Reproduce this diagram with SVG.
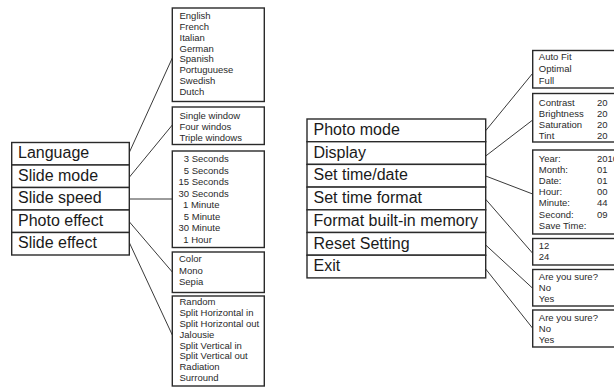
<svg xmlns="http://www.w3.org/2000/svg" width="614" height="389" viewBox="0 0 614 389">
<style>
.box{fill:#fff;stroke:#2a2a2a;stroke-width:1.4}
.m{font-family:"Liberation Sans",Arial,sans-serif;font-size:16px;fill:#1a1a1a}
.o{font-family:"Liberation Sans",Arial,sans-serif;font-size:9.5px;fill:#2a2a2a}
.c{fill:none;stroke:#222;stroke-width:0.9}
</style>
<rect width="614" height="389" fill="#fff"/>
<g id="connectors">
<line class="c" x1="129.5" y1="152" x2="172.3" y2="58"/>
<line class="c" x1="129.5" y1="177" x2="172.3" y2="125"/>
<line class="c" x1="129.5" y1="199" x2="172.3" y2="199"/>
<line class="c" x1="129.5" y1="222" x2="172.3" y2="272"/>
<line class="c" x1="129.5" y1="243" x2="172.3" y2="335"/>
<line class="c" x1="485.7" y1="130.7" x2="532.7" y2="73.3"/>
<line class="c" x1="485.7" y1="156" x2="532.7" y2="120"/>
<line class="c" x1="485.7" y1="176" x2="532.7" y2="194"/>
<line class="c" x1="485.7" y1="199.3" x2="532.7" y2="253.3"/>
<line class="c" x1="485.7" y1="245" x2="532.7" y2="288.3"/>
<line class="c" x1="485.7" y1="269" x2="532.7" y2="328.3"/>
</g>
<g id="left-menu">
<g id="language"><rect class="box" x="11.7" y="142.5" width="117.6" height="22.5"/><text class="m" x="18" y="158.1">Language</text></g>
<g id="slide-mode"><rect class="box" x="11.7" y="165" width="117.6" height="22.5"/><text class="m" x="18" y="180.6">Slide mode</text></g>
<g id="slide-speed"><rect class="box" x="11.7" y="187.5" width="117.6" height="22.5"/><text class="m" x="18" y="203.1">Slide speed</text></g>
<g id="photo-effect"><rect class="box" x="11.7" y="210" width="117.6" height="22.5"/><text class="m" x="18" y="225.6">Photo effect</text></g>
<g id="slide-effect"><rect class="box" x="11.7" y="232.5" width="117.6" height="22.5"/><text class="m" x="18" y="248.1">Slide effect</text></g>
</g>
<g id="language-options"><rect class="box" x="172.3" y="8" width="92" height="93.5"/>
<text class="o" x="179.5"><tspan x="179.5" y="18.8">English</tspan><tspan x="179.5" y="29.7">French</tspan><tspan x="179.5" y="40.6">Italian</tspan><tspan x="179.5" y="51.5">German</tspan><tspan x="179.5" y="62.4">Spanish</tspan><tspan x="179.5" y="73.3">Portuguuese</tspan><tspan x="179.5" y="84.2">Swedish</tspan><tspan x="179.5" y="95.1">Dutch</tspan></text></g>
<g id="slide-mode-options"><rect class="box" x="172.3" y="107" width="92" height="37.5"/>
<text class="o"><tspan x="179.5" y="118.5">Single window</tspan><tspan x="179.5" y="129.5">Four windos</tspan><tspan x="179.5" y="140.5">Triple windows</tspan></text></g>
<g id="slide-speed-options"><rect class="box" x="172.3" y="151" width="92" height="96.5"/>
<text class="o"><tspan x="183.8" y="162.4">3 Seconds</tspan><tspan x="183.8" y="173.9">5 Seconds</tspan><tspan x="178.5" y="185.4">15 Seconds</tspan><tspan x="178.5" y="196.9">30 Seconds</tspan><tspan x="183" y="208.4">1 Minute</tspan><tspan x="183.8" y="219.9">5 Minute</tspan><tspan x="178.5" y="231.4">30 Minute</tspan><tspan x="183.3" y="242.9">1 Hour</tspan></text></g>
<g id="photo-effect-options"><rect class="box" x="172.3" y="252" width="92" height="40.5"/>
<text class="o"><tspan x="179" y="262.4">Color</tspan><tspan x="179" y="273.9">Mono</tspan><tspan x="179" y="285.4">Sepia</tspan></text></g>
<g id="slide-effect-options"><rect class="box" x="172.3" y="296" width="92" height="90"/>
<text class="o"><tspan x="179.5" y="305.4">Random</tspan><tspan x="179.5" y="316.2">Split Horizontal in</tspan><tspan x="179.5" y="327">Split Horizontal out</tspan><tspan x="179.5" y="337.8">Jalousie</tspan><tspan x="179.5" y="348.6">Split Vertical in</tspan><tspan x="179.5" y="359.4">Split Vertical out</tspan><tspan x="179.5" y="370.2">Radiation</tspan><tspan x="179.5" y="381">Surround</tspan></text></g>
<g id="right-menu">
<g id="photo-mode"><rect class="box" x="307" y="119" width="178.7" height="22.7"/><text class="m" x="313.5" y="135">Photo mode</text></g>
<g id="display"><rect class="box" x="307" y="141.7" width="178.7" height="22.7"/><text class="m" x="313.5" y="157.7">Display</text></g>
<g id="set-time-date"><rect class="box" x="307" y="164.4" width="178.7" height="22.7"/><text class="m" x="313.5" y="180.4">Set time/date</text></g>
<g id="set-time-format"><rect class="box" x="307" y="187.1" width="178.7" height="22.7"/><text class="m" x="313.5" y="203.1">Set time format</text></g>
<g id="format-memory"><rect class="box" x="307" y="209.8" width="178.7" height="22.7"/><text class="m" x="313.5" y="225.8">Format built-in memory</text></g>
<g id="reset-setting"><rect class="box" x="307" y="232.5" width="178.7" height="22.7"/><text class="m" x="313.5" y="248.5">Reset Setting</text></g>
<g id="exit"><rect class="box" x="307" y="255.2" width="178.7" height="22.7"/><text class="m" x="313.5" y="271.2">Exit</text></g>
</g>
<g id="photo-mode-options"><rect class="box" x="532.7" y="50.5" width="100" height="37.5"/>
<text class="o"><tspan x="538.8" y="60.2">Auto Fit</tspan><tspan x="538.8" y="72.2">Optimal</tspan><tspan x="538.8" y="84.2">Full</tspan></text></g>
<g id="display-options"><rect class="box" x="532.7" y="93.5" width="100" height="48.5"/>
<text class="o"><tspan x="538.8" y="105.9">Contrast</tspan><tspan x="538.8" y="116.9">Brightness</tspan><tspan x="538.8" y="127.9">Saturation</tspan><tspan x="538.8" y="138.9">Tint</tspan></text>
<text class="o"><tspan x="597" y="105.9">20</tspan><tspan x="597" y="116.9">20</tspan><tspan x="597" y="127.9">20</tspan><tspan x="597" y="138.9">20</tspan></text></g>
<g id="time-date-options"><rect class="box" x="532.7" y="150" width="100" height="84"/>
<text class="o"><tspan x="538.8" y="161.9">Year:</tspan><tspan x="538.8" y="173.4">Month:</tspan><tspan x="538.8" y="184.4">Date:</tspan><tspan x="538.8" y="195.4">Hour:</tspan><tspan x="538.8" y="206.4">Minute:</tspan><tspan x="538.8" y="217.9">Second:</tspan><tspan x="538.8" y="229.4">Save Time:</tspan></text>
<text class="o"><tspan x="597" y="161.9">2010</tspan><tspan x="597" y="173.4">01</tspan><tspan x="597" y="184.4">01</tspan><tspan x="597" y="195.4">00</tspan><tspan x="597" y="206.4">44</tspan><tspan x="597" y="217.9">09</tspan></text></g>
<g id="time-format-options"><rect class="box" x="532.7" y="238.5" width="100" height="26.5"/>
<text class="o"><tspan x="538.8" y="249.4">12</tspan><tspan x="538.8" y="260.4">24</tspan></text></g>
<g id="reset-options"><rect class="box" x="532.7" y="269.5" width="100" height="36.5"/>
<text class="o"><tspan x="538.8" y="280.4">Are you sure?</tspan><tspan x="538.8" y="291.4">No</tspan><tspan x="538.8" y="302.4">Yes</tspan></text></g>
<g id="exit-options"><rect class="box" x="532.7" y="310" width="100" height="37"/>
<text class="o"><tspan x="538.8" y="320.9">Are you sure?</tspan><tspan x="538.8" y="331.9">No</tspan><tspan x="538.8" y="343.4">Yes</tspan></text></g>
</svg>
